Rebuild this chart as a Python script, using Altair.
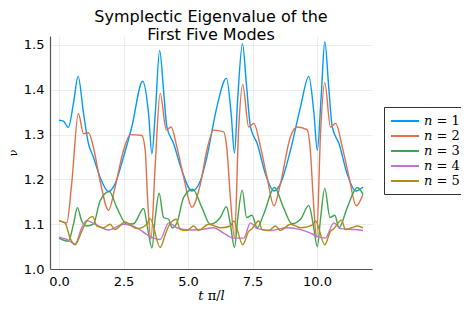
import altair as alt
import pandas as pd

labels = ["𝑛 = 1", "𝑛 = 2", "𝑛 = 3", "𝑛 = 4", "𝑛 = 5"]
colors = ["#009AFA", "#E36F47", "#3EA44E", "#C371D2", "#AC8E18"]

t1 = [0, 0.17, 0.36, 0.56, 0.74, 0.95, 1.14, 1.33, 1.59, 1.92, 2.17, 2.50, 2.82, 3.24, 3.47, 3.60, 3.73, 3.90, 4.05, 4.18, 4.44, 4.76, 5.15, 5.48, 5.73, 6.12, 6.49, 6.67, 6.80, 6.93, 7.11, 7.27, 7.42, 7.68, 8.00, 8.33, 8.58, 8.97, 9.36, 9.68, 9.88, 10.01, 10.16, 10.30, 10.46, 10.59, 10.85, 11.17, 11.50, 11.78]
v1 = [1.332, 1.330, 1.316, 1.370, 1.430, 1.347, 1.280, 1.250, 1.205, 1.173, 1.190, 1.250, 1.317, 1.419, 1.347, 1.257, 1.347, 1.488, 1.400, 1.317, 1.280, 1.220, 1.174, 1.197, 1.250, 1.362, 1.426, 1.347, 1.259, 1.385, 1.503, 1.407, 1.317, 1.280, 1.212, 1.174, 1.190, 1.265, 1.362, 1.430, 1.347, 1.265, 1.385, 1.507, 1.400, 1.317, 1.280, 1.212, 1.174, 1.183]

t2 = [0, 0.30, 0.49, 0.75, 0.95, 1.14, 1.33, 1.59, 1.92, 2.17, 2.50, 2.76, 3.21, 3.34, 3.43, 3.56, 3.73, 3.92, 4.16, 4.34, 4.57, 4.83, 5.15, 5.48, 5.73, 5.99, 6.38, 6.51, 6.64, 6.80, 6.96, 7.12, 7.35, 7.55, 7.81, 8.06, 8.33, 8.58, 8.97, 9.23, 9.61, 9.74, 9.85, 9.98, 10.14, 10.30, 10.52, 10.72, 10.98, 11.24, 11.52, 11.78]
v2 = [1.108, 1.103, 1.190, 1.347, 1.302, 1.304, 1.272, 1.197, 1.131, 1.182, 1.265, 1.300, 1.298, 1.265, 1.160, 1.066, 1.234, 1.392, 1.310, 1.317, 1.272, 1.205, 1.138, 1.190, 1.265, 1.310, 1.306, 1.265, 1.160, 1.070, 1.310, 1.412, 1.317, 1.325, 1.272, 1.205, 1.141, 1.190, 1.295, 1.317, 1.311, 1.265, 1.160, 1.070, 1.310, 1.416, 1.317, 1.325, 1.272, 1.205, 1.141, 1.167]

t3 = [0, 0.36, 0.56, 0.71, 0.88, 1.07, 1.33, 1.59, 1.95, 2.24, 2.63, 2.89, 3.28, 3.43, 3.60, 3.73, 3.88, 4.05, 4.25, 4.38, 4.57, 4.83, 5.18, 5.54, 5.86, 6.25, 6.49, 6.64, 6.80, 6.93, 7.10, 7.27, 7.48, 7.68, 7.93, 8.35, 8.70, 9.03, 9.36, 9.68, 9.85, 10.01, 10.14, 10.30, 10.50, 10.69, 10.85, 11.17, 11.56, 11.78]
v3 = [1.069, 1.062, 1.100, 1.137, 1.107, 1.096, 1.100, 1.152, 1.173, 1.137, 1.100, 1.101, 1.135, 1.092, 1.047, 1.115, 1.169, 1.115, 1.111, 1.092, 1.103, 1.160, 1.178, 1.137, 1.100, 1.115, 1.139, 1.100, 1.048, 1.115, 1.176, 1.115, 1.120, 1.092, 1.122, 1.182, 1.137, 1.101, 1.111, 1.142, 1.100, 1.050, 1.115, 1.180, 1.115, 1.120, 1.092, 1.137, 1.182, 1.167]

t4 = [0, 0.30, 0.62, 0.88, 1.07, 1.40, 1.92, 2.50, 3.02, 3.40, 3.66, 3.92, 4.25, 4.57, 5.09, 5.48, 5.99, 6.38, 6.77, 7.16, 7.42, 7.68, 8.20, 8.84, 9.36, 9.74, 10.01, 10.32, 10.65, 10.91, 11.43, 11.78]
v4 = [1.071, 1.066, 1.056, 1.092, 1.108, 1.100, 1.087, 1.100, 1.092, 1.077, 1.069, 1.066, 1.103, 1.092, 1.087, 1.088, 1.092, 1.080, 1.069, 1.069, 1.103, 1.090, 1.086, 1.092, 1.088, 1.080, 1.073, 1.069, 1.103, 1.090, 1.088, 1.086]

t5 = [0, 0.23, 0.43, 0.62, 0.88, 1.07, 1.31, 1.46, 1.72, 1.98, 2.17, 2.56, 3.02, 3.40, 3.53, 3.92, 4.12, 4.25, 4.54, 4.70, 4.96, 5.22, 5.41, 5.80, 6.25, 6.64, 6.77, 7.12, 7.35, 7.48, 7.74, 7.87, 8.13, 8.39, 8.58, 8.97, 9.36, 9.81, 9.94, 10.30, 10.52, 10.65, 10.95, 11.10, 11.56, 11.78]
v5 = [1.108, 1.103, 1.069, 1.054, 1.084, 1.107, 1.117, 1.096, 1.092, 1.100, 1.088, 1.105, 1.090, 1.100, 1.113, 1.048, 1.077, 1.096, 1.111, 1.088, 1.086, 1.096, 1.086, 1.100, 1.092, 1.096, 1.107, 1.054, 1.084, 1.090, 1.107, 1.088, 1.086, 1.096, 1.086, 1.100, 1.092, 1.098, 1.107, 1.054, 1.084, 1.090, 1.109, 1.088, 1.096, 1.092]

series_t = [t1, t2, t3, t4, t5]
series_v = [v1, v2, v3, v4, v5]

rows = []
for lab, ts, vs in zip(labels, series_t, series_v):
    for i, (t, v) in enumerate(zip(ts, vs)):
        rows.append({"t": t, "nu": v, "mode": lab, "order": i})
df = pd.DataFrame(rows)

chart = alt.Chart(df).mark_line(strokeWidth=1.4, interpolate="monotone", clip=True).encode(
    x=alt.X("t:Q", scale=alt.Scale(domain=[-0.35, 12.13], nice=False, zero=False),
            axis=alt.Axis(values=[0, 2.5, 5, 7.5, 10], format=".1f", title="𝑡 π/𝑙",
                          titleFont="DejaVu Serif", titleFontWeight="normal", titleFontSize=13,
                          titlePadding=1)),
    y=alt.Y("nu:Q", scale=alt.Scale(domain=[1.0, 1.52], nice=False, zero=False),
            axis=alt.Axis(values=[1.0, 1.1, 1.2, 1.3, 1.4, 1.5], format=".1f", title="ν",
                          titleFont="DejaVu Serif", titleFontWeight="normal", titleFontSize=11,
                          titlePadding=5)),
    color=alt.Color("mode:N", scale=alt.Scale(domain=labels, range=colors),
                    legend=alt.Legend(title=None, orient="none", legendX=334, legendY=71,
                                      symbolType="M-1,0H3", symbolSize=196, symbolStrokeWidth=2,
                                      labelFont="DejaVu Serif", labelFontSize=13, labelColor="#000",
                                      strokeColor="#333", fillColor="white", padding=6,
                                      rowPadding=0, labelOffset=18)),
    order="order:Q",
).properties(
    width=322, height=233,
    title=alt.TitleParams(["Symplectic Eigenvalue of the", "First Five Modes"],
                          font="DejaVu Sans", fontSize=16, fontWeight="normal", color="#000",
                          anchor="middle", offset=-7, lineHeight=18),
    autosize=alt.AutoSizeParams(type="none"),
    padding={"left": 42, "top": 28, "right": 89, "bottom": 36},
).configure_view(stroke=None).configure_axis(
    labelFont="DejaVu Sans", labelFontSize=13, labelColor="#000", titleColor="#000",
    domainColor="#555", domainWidth=1.2, gridColor="#e8e8e8", gridWidth=0.8,
    ticks=False, labelPadding=6,
)

chart.save("out.html", embed_options={"renderer": "svg", "actions": False})
